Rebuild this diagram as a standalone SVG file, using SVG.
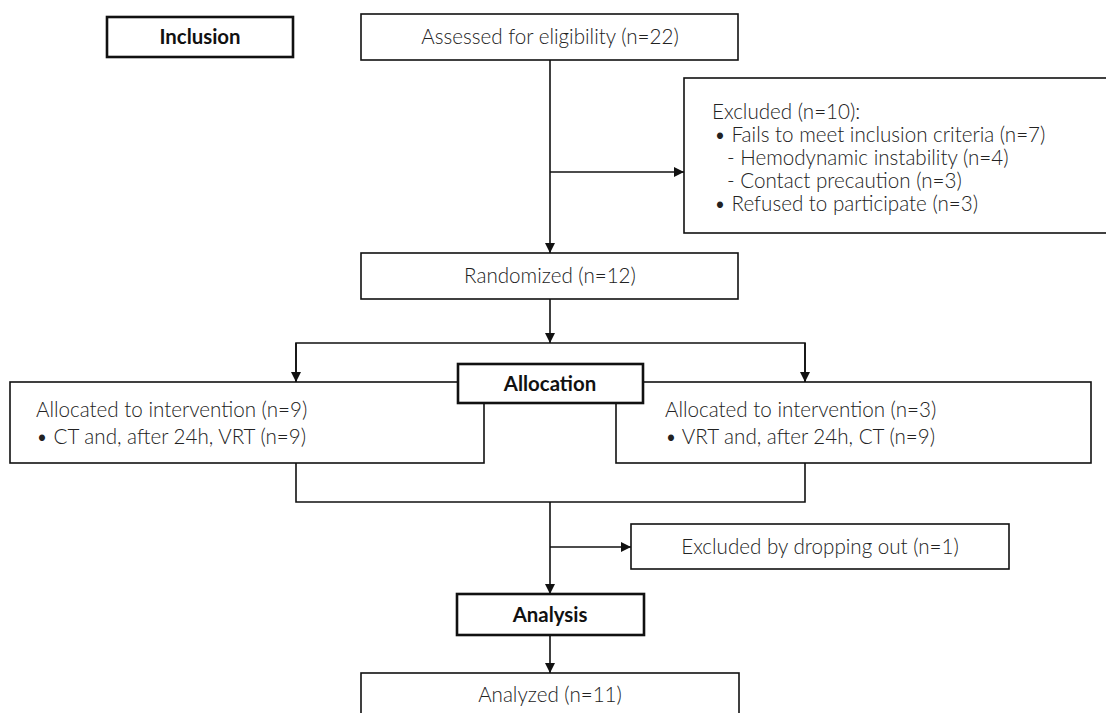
<svg xmlns="http://www.w3.org/2000/svg" width="1106" height="713" viewBox="0 0 1106 713">
<style>
.box{fill:#fff;stroke:#111;stroke-width:1.6}
.hd{fill:#fff;stroke:#111;stroke-width:2.6}
.t{font-family:Lato,"Liberation Sans",sans-serif;font-weight:300;font-size:20.6px;fill:#222}
.b{font-family:Lato,"Liberation Sans",sans-serif;font-weight:700;font-size:20.4px;fill:#111}
.c{text-anchor:middle}
.ln{fill:none;stroke:#111;stroke-width:1.6}
</style>
<defs>
<marker id="ar" markerUnits="userSpaceOnUse" markerWidth="10" markerHeight="10" refX="10" refY="5" orient="auto">
<path d="M0,0 L10,5 L0,10 z" fill="#111"/>
</marker>
</defs>
<g id="connectors">
<path class="ln" d="M550,60 V253" marker-end="url(#ar)"/>
<path class="ln" d="M550,172 H684" marker-end="url(#ar)"/>
<path class="ln" d="M550,299 V343" marker-end="url(#ar)"/>
<path class="ln" d="M296,382 V343 H805 V382" />
<path class="ln" d="M296,343 V382" marker-end="url(#ar)"/>
<path class="ln" d="M805,343 V382" marker-end="url(#ar)"/>
<path class="ln" d="M296,463 V502 H805 V463"/>
<path class="ln" d="M550,502 V594" marker-end="url(#ar)"/>
<path class="ln" d="M550,547 H631" marker-end="url(#ar)"/>
<path class="ln" d="M550,635 V673" marker-end="url(#ar)"/>
</g>
<g id="inclusion">
<rect class="hd" x="107" y="17" width="186" height="40"/>
<text class="b c" x="200" y="44">Inclusion</text>
</g>
<g id="assessed">
<rect class="box" x="361" y="14" width="377" height="46"/>
<text class="t c" x="550" y="44">Assessed for eligibility (n=22)</text>
</g>
<g id="excluded">
<rect class="box" x="684" y="78" width="440" height="155"/>
<text class="t" x="712" y="119">Excluded (n=10):</text>
<text class="t" x="714" y="142">• Fails to meet inclusion criteria (n=7)</text>
<text class="t" x="727" y="165">- Hemodynamic instability (n=4)</text>
<text class="t" x="727" y="188">- Contact precaution (n=3)</text>
<text class="t" x="714" y="211">• Refused to participate (n=3)</text>
</g>
<g id="randomized">
<rect class="box" x="361" y="253" width="377" height="46"/>
<text class="t c" x="550" y="283">Randomized (n=12)</text>
</g>
<g id="arm1">
<rect class="box" x="10" y="382" width="474" height="81"/>
<text class="t" x="36" y="417">Allocated to intervention (n=9)</text>
<text class="t" x="36" y="444">• CT and, after 24h, VRT (n=9)</text>
</g>
<g id="arm2">
<rect class="box" x="616" y="382" width="475" height="81"/>
<text class="t" x="665" y="417">Allocated to intervention (n=3)</text>
<text class="t" x="665" y="444">• VRT and, after 24h, CT (n=9)</text>
</g>
<g id="allocation">
<rect class="hd" x="458" y="364" width="185" height="39"/>
<text class="b c" x="550" y="391">Allocation</text>
</g>
<g id="dropout">
<rect class="box" x="631" y="524" width="378" height="45"/>
<text class="t c" x="820" y="554">Excluded by dropping out (n=1)</text>
</g>
<g id="analysis">
<rect class="hd" x="457" y="594" width="187" height="41"/>
<text class="b c" x="550" y="622">Analysis</text>
</g>
<g id="analyzed">
<rect class="box" x="361" y="673" width="378" height="60"/>
<text class="t c" x="550" y="702">Analyzed (n=11)</text>
</g>
</svg>
